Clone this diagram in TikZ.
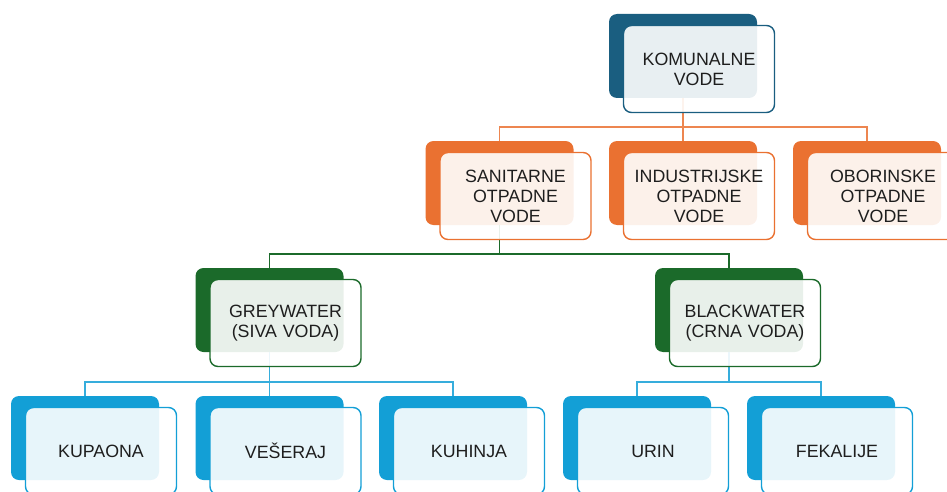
\documentclass[tikz,border=0pt]{standalone}
\usepackage{fontspec}
\setmainfont{Liberation Sans}
\definecolor{navy}{RGB}{26,94,128}
\definecolor{orng}{RGB}{234,113,49}
\definecolor{grn}{RGB}{27,106,42}
\definecolor{cyn}{RGB}{19,159,214}
\definecolor{ink}{RGB}{30,30,30}
\tikzstyle{backbox} = [rectangle, rounded corners=8pt, minimum width=148pt, minimum height=84pt, inner sep=0pt]
\tikzstyle{frontbox} = [rectangle, rounded corners=8pt, minimum width=151pt, minimum height=87pt, inner sep=2pt, text width=144pt, align=center, line width=1.4pt, fill=white, fill opacity=0.9, text opacity=1, text=ink, font=\fontsize{17.8}{20}\selectfont, xshift=16pt, yshift=-13pt]
\tikzstyle{link} = [line width=1.5pt]

\begin{document}
\begin{tikzpicture}[x=1pt, y=1pt]
\useasboundingbox (0,0) rectangle (947,-492);
% coloured boxes behind
\node (kom) [backbox, fill=navy] at (683,-56) {};
\node (san) [backbox, fill=orng] at (499.5,-183) {};
\node (ind) [backbox, fill=orng] at (683,-183) {};
\node (obo) [backbox, fill=orng] at (867,-183) {};
\node (grey) [backbox, fill=grn] at (269.5,-310) {};
\node (black) [backbox, fill=grn] at (729,-310) {};
\node (kup) [backbox, fill=cyn] at (85,-438) {};
\node (ves) [backbox, fill=cyn] at (269.5,-438) {};
\node (kuh) [backbox, fill=cyn] at (453,-438) {};
\node (urin) [backbox, fill=cyn] at (637,-438) {};
\node (fek) [backbox, fill=cyn] at (821,-438) {};

% connectors
\draw [link, draw=orng!85] (kom.south) -- ++(0,-29) -| (san.north);
\draw [link, draw=orng!85] (kom.south) -- ++(0,-29) -| (ind.north);
\draw [link, draw=orng!85] (kom.south) -- ++(0,-29) -| (obo.north);
\draw [link, draw=grn] (san.south) -- ++(0,-29) -| (grey.north);
\draw [link, draw=grn] (san.south) -- ++(0,-29) -| (black.north);
\draw [link, draw=cyn!85] (grey.south) -- ++(0,-30) -| (kup.north);
\draw [link, draw=cyn!85] (grey.south) -- ++(0,-30) -| (ves.north);
\draw [link, draw=cyn!85] (grey.south) -- ++(0,-30) -| (kuh.north);
\draw [link, draw=cyn!85] (black.south) -- ++(0,-30) -| (urin.north);
\draw [link, draw=cyn!85] (black.south) -- ++(0,-30) -| (fek.north);

% text boxes in front
\node (komT) [frontbox, draw=navy] at (kom) {KOMUNALNE\\VODE};
\node (sanT) [frontbox, draw=orng] at (san) {SANITARNE\\OTPADNE\\VODE};
\node (indT) [frontbox, draw=orng] at (ind) {INDUSTRIJSKE\\OTPADNE\\VODE};
\node (oboT) [frontbox, draw=orng] at (obo) {OBORINSKE\\OTPADNE\\VODE};
\node (greyT) [frontbox, draw=grn] at (grey) {GREYWATER\\(SIVA VODA)};
\node (blackT) [frontbox, draw=grn] at (black) {BLACKWATER\\(CRNA VODA)};
\node (kupT) [frontbox, draw=cyn] at (kup) {KUPAONA};
\node (vesT) [frontbox, draw=cyn] at (ves) {VEŠERAJ};
\node (kuhT) [frontbox, draw=cyn] at (kuh) {KUHINJA};
\node (urinT) [frontbox, draw=cyn] at (urin) {URIN};
\node (fekT) [frontbox, draw=cyn] at (fek) {FEKALIJE};
\end{tikzpicture}
\end{document}
